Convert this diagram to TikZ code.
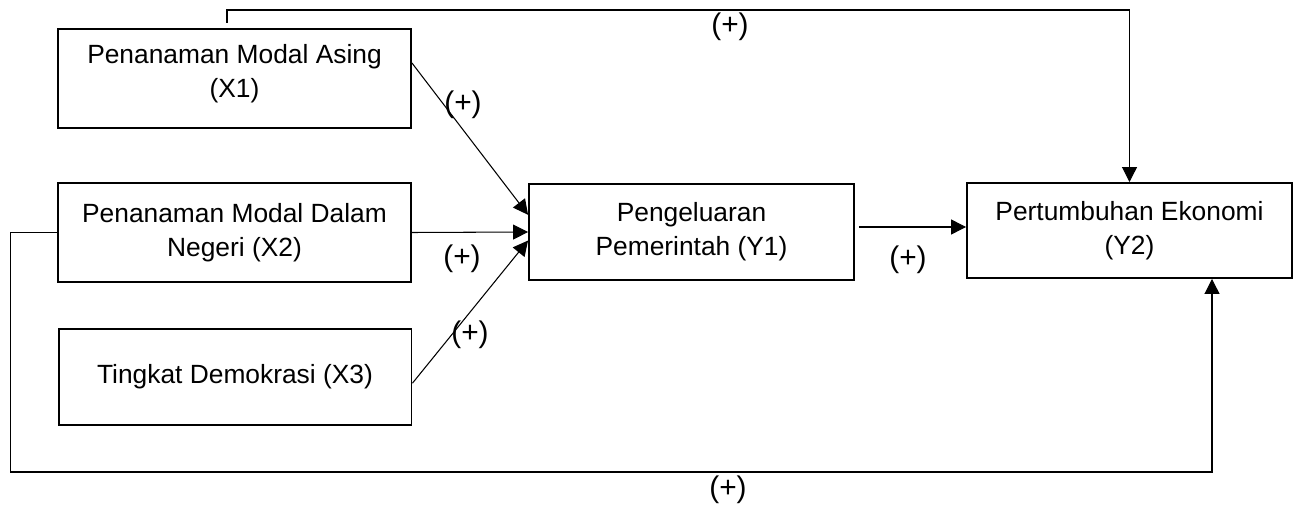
\documentclass[tikz,border=0pt]{standalone}
\usepackage{fontspec}
\setmainfont{Liberation Sans}
\usetikzlibrary{positioning, arrows.meta}

\tikzset{
  box/.style={draw, line width=1.1pt, minimum width=7.06cm, minimum height=1.98cm, align=center, inner sep=0pt, font=\fontsize{15}{19.3}\selectfont},
  conn/.style={line width=0.6pt},
  arr/.style={conn, -{Triangle[length=0.3cm, width=0.3cm]}},
  sign/.style={font=\fontsize{17}{20}\selectfont, inner sep=0pt},
}

\begin{document}
\begin{tikzpicture}[x=0.02cm, y=-0.02cm]
            \useasboundingbox (0,0) rectangle (1297,506);

            \node[box, text depth=0.31cm] (x1) at (234.5, 78.5) {Penanaman Modal Asing\\(X1)};
            \node[box] (x2) at (234.5, 232.5) {Penanaman Modal Dalam\\Negeri (X2)};
            \node[box, minimum height=1.92cm] (x3) at (235, 377) {Tingkat Demokrasi (X3)};
            \node[box, minimum width=6.5cm, minimum height=1.92cm] (y1) at (691.5, 232) {Pengeluaran\\Pemerintah (Y1)};
            \node[box, minimum width=6.5cm, minimum height=1.9cm] (y2) at (1129.5, 230.5) {Pertumbuhan Ekonomi\\(Y2)};

            \coordinate (ts) at (227, 23);
            \coordinate (bs) at (1212, 472);

            \draw[arr] (x1.5) -- (y1.174);
            \draw[arr] (x2.east) -- (y1.west);
            \draw[arr] (x3.-2) -- (y1.183);
            \draw[arr] ([xshift=0.08cm, yshift=0.1cm]y1.east) -- ([yshift=0.1cm]y2.west |- y1.east);
            \draw[arr] (ts) -- ++(0,-13) -| (y2.north);
            \draw[arr] (x2.west) -- ++(-47,0) |- (bs) -- (bs |- y2.south);

            \node[sign] (s1) at (730, 27) {(+)};
            \node[sign] (s2) at (463, 105) {(+)};
            \node[sign] (s3) at (462, 259) {(+)};
            \node[sign] (s4) at (470, 335) {(+)};
            \node[sign] (s5) at (908, 260) {(+)};
            \node[sign] (s6) at (728, 490) {(+)};
        \end{tikzpicture}
\end{document}
